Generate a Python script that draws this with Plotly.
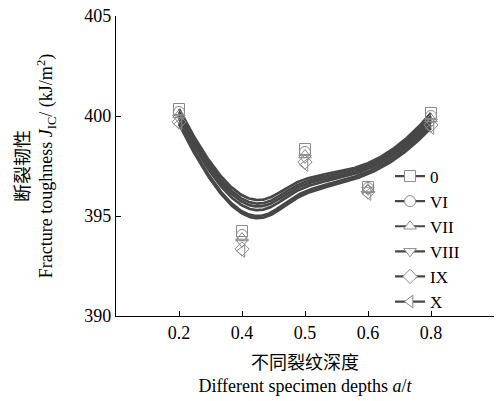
import numpy as np
import plotly.graph_objects as go

# Specimen depth categories a/t
depths = ["0.2", "0.4", "0.5", "0.6", "0.8"]

# Fracture toughness J_IC (kJ/m^2) for each specimen group
jic_0 = [400.35, 394.25, 398.35, 396.45, 400.15]
jic_vi = [400.2, 394.05, 398.2, 396.4, 400.0]
jic_vii = [400.05, 393.9, 398.05, 396.35, 399.85]
jic_viii = [399.9, 393.7, 397.9, 396.3, 399.7]
jic_ix = [399.7, 393.35, 397.7, 396.2, 399.55]
jic_x = [399.6, 393.25, 397.55, 396.1, 399.4]

series_names = ["0", "VI", "VII", "VIII", "IX", "X"]
series_values = [jic_0, jic_vi, jic_vii, jic_viii, jic_ix, jic_x]
symbols = ["square-open", "circle-open", "triangle-up-open",
           "triangle-down-open", "diamond-open", "triangle-left-open"]

LINE_COLOR = "#474747"
MARKER_COLOR = "#8a8a8a"
FONT = "Liberation Serif, Times New Roman, Noto Sans CJK SC, serif"


def bspline(px, py, inner_knots=(0.38,), degree=3, n=300):
    """Clamped B-spline using the data points as control points."""
    knots = np.concatenate([np.zeros(degree + 1), np.array(inner_knots),
                            np.ones(degree + 1)])
    k = len(px)
    u = np.linspace(0, 1, n)
    u[-1] -= 1e-12

    def basis(i, p, t):
        if p == 0:
            return np.where((knots[i] <= t) & (t < knots[i + 1]), 1.0, 0.0)
        left = 0.0
        right = 0.0
        d1 = knots[i + p] - knots[i]
        d2 = knots[i + p + 1] - knots[i + 1]
        if d1 > 0:
            left = (t - knots[i]) / d1 * basis(i, p - 1, t)
        if d2 > 0:
            right = (knots[i + p + 1] - t) / d2 * basis(i + 1, p - 1, t)
        return left + right

    bx = np.zeros(n)
    by = np.zeros(n)
    for i in range(k):
        b = basis(i, degree, u)
        bx += b * px[i]
        by += b * py[i]
    return bx, by


xpos = np.arange(len(depths), dtype=float)

fig = go.Figure()

# Smoothed B-spline curves
for name, vals in zip(series_names, series_values):
    cx, cy = bspline(xpos, np.array(vals, dtype=float))
    fig.add_trace(go.Scatter(
        x=cx, y=cy, mode="lines",
        line=dict(color=LINE_COLOR, width=2.7),
        showlegend=False, hoverinfo="skip",
    ))

# Measured points
for name, vals, sym in zip(series_names, series_values, symbols):
    fig.add_trace(go.Scatter(
        x=xpos, y=vals, mode="markers",
        marker=dict(symbol=sym, size=11, color=MARKER_COLOR,
                    line=dict(color=MARKER_COLOR, width=1)),
        showlegend=False,
    ))

# Legend entries: line with hollow marker
for name, sym in zip(series_names, symbols):
    fig.add_trace(go.Scatter(
        x=[None], y=[None], mode="lines+markers", name=name,
        line=dict(color=LINE_COLOR, width=2.2),
        marker=dict(symbol=sym.replace("-open", ""), size=11, color="white",
                    line=dict(color=MARKER_COLOR, width=1)),
    ))

fig.update_layout(
    width=496, height=401,
    margin=dict(l=116, r=2, t=16, b=85),
    paper_bgcolor="white", plot_bgcolor="white",
    font=dict(family=FONT, size=18, color="black"),
    legend=dict(x=0.725, y=0.525, xanchor="left", yanchor="top",
                bgcolor="rgba(0,0,0,0)", font=dict(size=17),
                itemwidth=30, tracegroupgap=0),
    xaxis=dict(
        range=[-1, 5], tickvals=list(range(len(depths) + 1)),
        ticktext=depths + [""],
        showline=True, linecolor="black", linewidth=1.2,
        ticks="inside", ticklen=5, tickcolor="black",
        showgrid=False, zeroline=False,
        title=dict(text="不同裂纹深度<br>Different specimen depths <i>a</i>/<i>t</i>",
                   font=dict(size=18), standoff=14),
    ),
    yaxis=dict(
        range=[390, 405], tickvals=[390, 395, 400, 405],
        showline=True, linecolor="black", linewidth=1.2,
        ticks="inside", ticklen=5, tickcolor="black",
        showgrid=False, zeroline=False,
        title=dict(text="断裂韧性<br>Fracture toughness <i>J</i><sub>IC</sub>/ (kJ/m<sup>2</sup>)",
                   font=dict(size=18), standoff=26),
    ),
)

fig.write_html("out.html")
